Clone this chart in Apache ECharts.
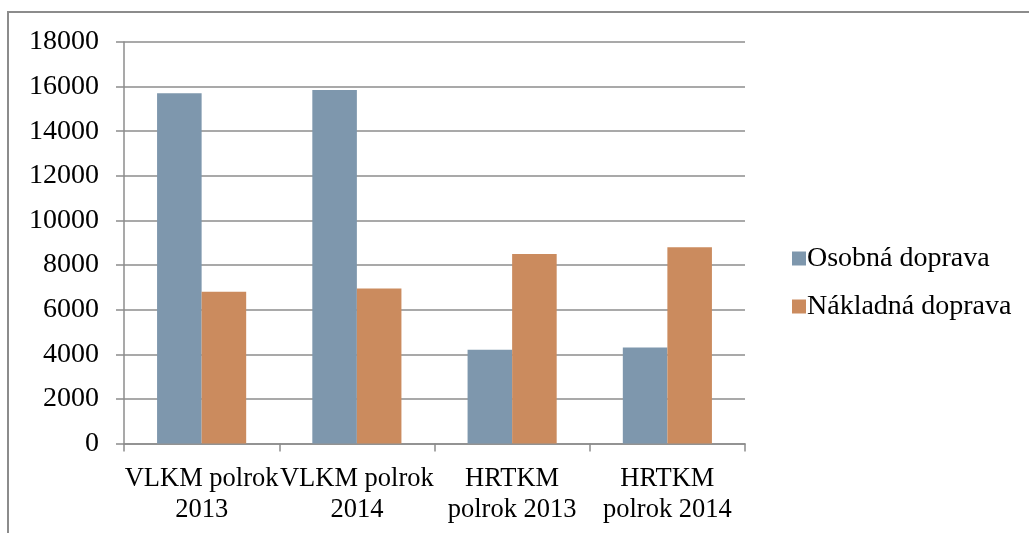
<!DOCTYPE html>
<html>
<head>
<meta charset="utf-8">
<script src="https://cdn.jsdelivr.net/npm/echarts@6/dist/echarts.min.js"></script>
<style>
  html, body { margin: 0; padding: 0; background: #fff; }
  #chart { width: 1029px; height: 533px; }
</style>
</head>
<body>
<div id="chart"></div>
<script>
// Datos del gráfico
const categories = ['VLKM polrok\n2013', 'VLKM polrok\n2014', 'HRTKM\npolrok 2013', 'HRTKM\npolrok 2014'];
const osobnaValues = [15700, 15850, 4200, 4300];
const nakladnaValues = [6800, 6950, 8500, 8800];
const seriesNames = ['Osobná doprava', 'Nákladná doprava'];

const fontFamily = '"Liberation Serif", "DejaVu Serif", serif';
const lineColor = '#8c8c8c';

const chart = echarts.init(document.getElementById('chart'));

const option = {
    animation: false,
    textStyle: { fontFamily: fontFamily },
    // Marco del gráfico
    graphic: [{
        type: 'rect',
        shape: { x: 8, y: 12, width: 1100, height: 600 },
        style: { fill: 'none', stroke: lineColor, lineWidth: 2 }
    }],
    grid: { left: 124, right: 284, top: 42, bottom: 89.5 },
    legend: {
        orient: 'vertical',
        left: 787,
        top: 238,
        itemWidth: 14,
        itemHeight: 14,
        itemGap: 17,
        icon: 'rect',
        textStyle: { fontFamily: fontFamily, fontSize: 28, color: '#000', lineHeight: 31, padding: [0, 0, 0, -4] },
        data: seriesNames
    },
    xAxis: {
        type: 'category',
        data: categories,
        axisLine: { lineStyle: { color: lineColor, width: 1.5 } },
        axisTick: { show: true, length: 8, lineStyle: { color: lineColor, width: 1.5 } },
        axisLabel: { interval: 0, color: '#000', fontSize: 26.5, lineHeight: 31, margin: 20, fontFamily: fontFamily }
    },
    yAxis: {
        type: 'value',
        min: 0,
        max: 18000,
        interval: 2000,
        axisLine: { show: true, lineStyle: { color: lineColor, width: 1.5 } },
        axisTick: { show: true, length: 8, lineStyle: { color: lineColor, width: 1.5 } },
        axisLabel: { color: '#000', fontSize: 28, margin: 25, fontFamily: fontFamily, formatter: v => String(v) },
        splitLine: { lineStyle: { color: lineColor, width: 1.5 } }
    },
    series: [
        {
            name: seriesNames[0],
            type: 'bar',
            data: osobnaValues,
            barGap: '0%',
            barCategoryGap: '42.6%',
            itemStyle: { color: '#7e97ad' }
        },
        {
            name: seriesNames[1],
            type: 'bar',
            data: nakladnaValues,
            itemStyle: { color: '#cb8b5e' }
        }
    ]
};

chart.setOption(option);
</script>
</body>
</html>
